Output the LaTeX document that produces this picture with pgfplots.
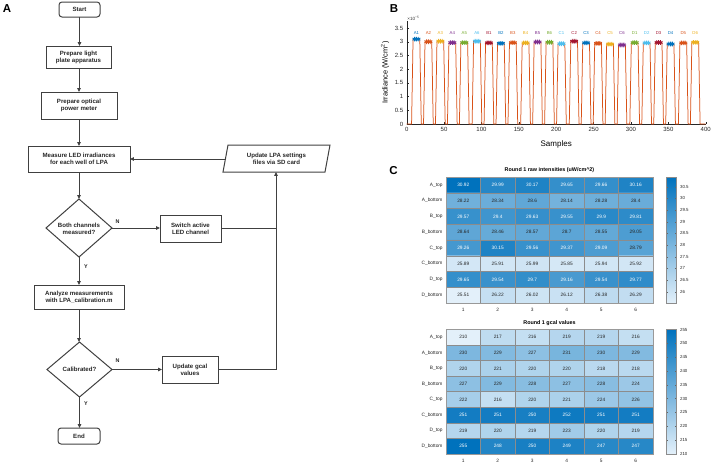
\documentclass[border=0pt]{standalone}
\usepackage{fontspec}
\setmainfont{Liberation Sans}
\usepackage{pgfplots}
\usepackage{pgfplotstable}
\pgfplotsset{compat=1.18}
\usetikzlibrary{arrows.meta}
\pgfplotsset{/pgf/number format/assume math mode=true}
\definecolor{mblue}{rgb}{0,0.447,0.741}
\definecolor{morange}{rgb}{0.850,0.325,0.098}
\definecolor{myellow}{rgb}{0.929,0.694,0.125}
\definecolor{mpurple}{rgb}{0.494,0.184,0.556}
\definecolor{mgreen}{rgb}{0.466,0.674,0.188}
\definecolor{mlblue}{rgb}{0.301,0.745,0.933}
\definecolor{mdred}{rgb}{0.635,0.078,0.184}
\definecolor{tdark}{rgb}{0.15,0.15,0.15}

\pgfplotstableread{
x y v tw
1 0 30.92 1
2 0 29.99 1
3 0 30.17 1
4 0 29.65 1
5 0 29.66 1
6 0 30.16 1
1 1 28.22 0
2 1 28.34 0
3 1 28.6 0
4 1 28.14 0
5 1 28.28 0
6 1 28.4 0
1 2 29.57 1
2 2 29.4 1
3 2 29.63 1
4 2 29.55 1
5 2 29.9 1
6 2 29.81 1
1 3 28.64 0
2 3 28.46 0
3 3 28.57 0
4 3 28.7 0
5 3 28.55 0
6 3 29.05 0
1 4 29.26 1
2 4 30.15 1
3 4 29.56 1
4 4 29.37 1
5 4 29.09 1
6 4 28.79 0
1 5 25.89 0
2 5 25.91 0
3 5 25.99 0
4 5 25.85 0
5 5 25.94 0
6 5 25.92 0
1 6 29.65 1
2 6 29.54 1
3 6 29.7 1
4 6 29.16 1
5 6 29.54 1
6 6 29.77 1
1 7 25.51 0
2 7 26.22 0
3 7 26.02 0
4 7 26.12 0
5 7 26.38 0
6 7 26.29 0
}\rawtab

\pgfplotstableread{
x y v tw
1 0 210 0
2 0 217 0
3 0 216 0
4 0 219 0
5 0 219 0
6 0 216 0
1 1 230 0
2 1 229 0
3 1 227 0
4 1 231 0
5 1 230 0
6 1 229 0
1 2 220 0
2 2 221 0
3 2 220 0
4 2 220 0
5 2 218 0
6 2 218 0
1 3 227 0
2 3 229 0
3 3 228 0
4 3 227 0
5 3 228 0
6 3 224 0
1 4 222 0
2 4 216 0
3 4 220 0
4 4 221 0
5 4 224 0
6 4 226 0
1 5 251 1
2 5 251 1
3 5 250 1
4 5 252 1
5 5 251 1
6 5 251 1
1 6 219 0
2 6 220 0
3 6 219 0
4 6 223 0
5 6 220 0
6 6 219 0
1 7 255 1
2 7 248 1
3 7 250 1
4 7 249 1
5 7 247 1
6 7 247 1
}\gcaltab

\pgfplotstableread{
x y c
10.5 3.092 c0
13 3.092 c0
15.5 3.092 c0
26.5 2.999 c1
29 2.999 c1
31.5 2.999 c1
42.5 3.017 c2
45 3.017 c2
47.5 3.017 c2
58.5 2.965 c3
61 2.965 c3
63.5 2.965 c3
74.5 2.966 c4
77 2.966 c4
79.5 2.966 c4
91.5 3.016 c5
94 3.016 c5
96.5 3.016 c5
107.5 2.957 c6
110 2.957 c6
112.5 2.957 c6
123.5 2.940 c0
126 2.940 c0
128.5 2.940 c0
139.5 2.963 c1
142 2.963 c1
144.5 2.963 c1
156.5 2.955 c2
159 2.955 c2
161.5 2.955 c2
172.5 2.990 c3
175 2.990 c3
177.5 2.990 c3
188.5 2.981 c4
191 2.981 c4
193.5 2.981 c4
204.5 2.926 c5
207 2.926 c5
209.5 2.926 c5
221.5 3.015 c6
224 3.015 c6
226.5 3.015 c6
237.5 2.956 c0
240 2.956 c0
242.5 2.956 c0
253.5 2.937 c1
256 2.937 c1
258.5 2.937 c1
269.5 2.909 c2
272 2.909 c2
274.5 2.909 c2
285.5 2.879 c3
288 2.879 c3
290.5 2.879 c3
302.5 2.965 c4
305 2.965 c4
307.5 2.965 c4
318.5 2.954 c5
321 2.954 c5
323.5 2.954 c5
334.5 2.970 c6
337 2.970 c6
339.5 2.970 c6
350.5 2.916 c0
353 2.916 c0
355.5 2.916 c0
367.5 2.954 c1
370 2.954 c1
372.5 2.954 c1
383.5 2.977 c2
386 2.977 c2
388.5 2.977 c2
}\marktab

\begin{document}
\begin{tikzpicture}[x=1pt,y=1pt,font=\fontsize{5.5}{6.5}\selectfont]
\path[use as bounding box] (0,0) rectangle (714,-463);

% ---------------- Panel A : flowchart ----------------
\tikzset{
  fl/.style={draw=black!75, line width=1pt},
  ar/.style={fl, -{Triangle[length=3.8pt,width=3.4pt]}},
  ft/.style={font=\bfseries\fontsize{6.1}{7}\selectfont, text=black!85, align=center, inner sep=0pt},
  yn/.style={font=\bfseries\fontsize{5.4}{5.4}\selectfont, text=black!85, inner sep=0pt}
}
\node[font=\bfseries\fontsize{11.5}{11.5}\selectfont, inner sep=0pt] at (7,-9) {A};
\node[font=\bfseries\fontsize{11.5}{11.5}\selectfont, inner sep=0pt] at (394,-9) {B};
\node[font=\bfseries\fontsize{11.5}{11.5}\selectfont, inner sep=0pt] at (393.5,-171) {C};

\draw[fl, rounded corners=3pt] (59,-2) rectangle (100,-17);
\node[ft] at (79.5,-9.5) {Start};
\draw[fl] (46,-46) rectangle (111,-68);
\node[ft] at (78.5,-57) {Prepare light\\plate apparatus};
\draw[fl] (41,-92) rectangle (117,-119);
\node[ft] at (79,-105.5) {Prepare optical\\power meter};
\draw[fl] (28,-146) rectangle (130,-172);
\node[ft] at (79,-159) {Measure LED irradiances\\for each well of LPA};
\draw[fl] (223,-172) -- (228,-145) -- (330,-145) -- (325,-172) -- cycle;
\node[ft] at (276.5,-158.5) {Update LPA settings\\files via SD card};
\draw[fl] (79,-199) -- (112,-228) -- (79,-257) -- (46,-228) -- cycle;
\node[ft] at (79,-228.5) {Both channels\\measured?};
\draw[fl] (160,-215) rectangle (221,-242);
\node[ft] at (190.5,-228.5) {Switch active\\LED channel};
\draw[fl] (34,-285) rectangle (124,-309);
\node[ft] at (79,-297) {Analyze measurements\\with LPA\_calibration.m};
\draw[fl] (79.5,-342) -- (112,-369.5) -- (79.5,-397) -- (47,-369.5) -- cycle;
\node[ft] at (79.5,-369.5) {Calibrated?};
\draw[fl] (162,-356) rectangle (218,-383);
\node[ft] at (190,-369.5) {Update gcal\\values};
\draw[fl, rounded corners=3pt] (58,-428) rectangle (100,-444);
\node[ft] at (79,-436) {End};

\draw[ar] (79.5,-17) -- (79.5,-46);
\draw[ar] (79,-68) -- (79,-92);
\draw[ar] (79,-119) -- (79,-146);
\draw[ar] (79,-172) -- (79,-199);
\draw[ar] (112,-228) -- (160,-228);
\draw[fl] (221,-228) -- (276,-228);
\draw[ar] (218,-369.5) -- (276,-369.5) -- (276,-172);
\draw[ar] (225.5,-159) -- (130,-159);
\draw[ar] (79,-257) -- (79,-285);
\draw[ar] (79,-309) -- (79,-342);
\draw[ar] (112,-369.5) -- (162,-369.5);
\draw[ar] (79.5,-397) -- (79.5,-428);
\node[yn] at (117.5,-222) {N};
\node[yn] at (86,-267) {Y};
\node[yn] at (117.5,-361) {N};
\node[yn] at (86,-404) {Y};

% ---------------- Panel B ----------------
\begin{axis}[at={(406.7pt,-124pt)}, anchor=south west, scale only axis,
  width=299pt, height=102.9pt, xmin=0, xmax=400, ymin=0, ymax=3.75,
  axis lines=left, axis line style={-, black!85, line width=0.4pt},
  tick align=inside, major tick length=2pt, tick style={black!85},
  xtick={0,50,...,400}, ytick={0,0.5,...,3.5},
  tick label style={font=\fontsize{6}{6}\selectfont, text=black!85},
  xlabel={Samples}, ylabel={Irradiance (W/cm\textsuperscript{2})},
  xlabel style={font=\fontsize{8}{8}\selectfont, at={(axis description cs:0.5,0)}, anchor=center, yshift=-20pt},
  ylabel style={font=\fontsize{7.4}{7.4}\selectfont, at={(axis description cs:-0.0726,0.5)}, anchor=center},
  clip=false]
\addplot[morange, line width=0.75pt] coordinates {
(0,0)
(6.5,0)(8.5,3.092)(17.5,3.092)(19.5,0)
(22.5,0)(24.5,2.999)(33.5,2.999)(35.5,0)
(38.5,0)(40.5,3.017)(49.5,3.017)(51.5,0)
(54.5,0)(56.5,2.965)(65.5,2.965)(67.5,0)
(70.5,0)(72.5,2.966)(81.5,2.966)(83.5,0)
(87.5,0)(89.5,3.016)(98.5,3.016)(100.5,0)
(103.5,0)(105.5,2.957)(114.5,2.957)(116.5,0)
(119.5,0)(121.5,2.940)(130.5,2.940)(132.5,0)
(135.5,0)(137.5,2.963)(146.5,2.963)(148.5,0)
(152.5,0)(154.5,2.955)(163.5,2.955)(165.5,0)
(168.5,0)(170.5,2.990)(179.5,2.990)(181.5,0)
(184.5,0)(186.5,2.981)(195.5,2.981)(197.5,0)
(200.5,0)(202.5,2.926)(211.5,2.926)(213.5,0)
(217.5,0)(219.5,3.015)(228.5,3.015)(230.5,0)
(233.5,0)(235.5,2.956)(244.5,2.956)(246.5,0)
(249.5,0)(251.5,2.937)(260.5,2.937)(262.5,0)
(265.5,0)(267.5,2.909)(276.5,2.909)(278.5,0)
(281.5,0)(283.5,2.879)(292.5,2.879)(294.5,0)
(298.5,0)(300.5,2.965)(309.5,2.965)(311.5,0)
(314.5,0)(316.5,2.954)(325.5,2.954)(327.5,0)
(330.5,0)(332.5,2.970)(341.5,2.970)(343.5,0)
(346.5,0)(348.5,2.916)(357.5,2.916)(359.5,0)
(363.5,0)(365.5,2.954)(374.5,2.954)(376.5,0)
(379.5,0)(381.5,2.977)(390.5,2.977)(392.5,0)
(400,0)
};
\addplot[scatter, only marks, mark size=2.3pt, line width=0.9pt,
  scatter src=explicit symbolic,
  scatter/classes={
    c0={mark=asterisk,mblue}, c1={mark=asterisk,morange},
    c2={mark=asterisk,myellow}, c3={mark=asterisk,mpurple},
    c4={mark=asterisk,mgreen}, c5={mark=asterisk,mlblue},
    c6={mark=asterisk,mdred}}]
  table[x=x,y=y,meta=c] {\marktab};
\tikzset{wl/.style={font=\fontsize{4.3}{4.3}\selectfont, inner sep=0pt}}
\node[wl,text=mblue] at (axis cs:13,3.31) {A1};
\node[wl,text=morange] at (axis cs:29,3.31) {A2};
\node[wl,text=myellow] at (axis cs:45,3.31) {A3};
\node[wl,text=mpurple] at (axis cs:61,3.31) {A4};
\node[wl,text=mgreen] at (axis cs:77,3.31) {A5};
\node[wl,text=mlblue] at (axis cs:94,3.31) {A6};
\node[wl,text=mdred] at (axis cs:110,3.31) {B1};
\node[wl,text=mblue] at (axis cs:126,3.31) {B2};
\node[wl,text=morange] at (axis cs:142,3.31) {B3};
\node[wl,text=myellow] at (axis cs:159,3.31) {B4};
\node[wl,text=mpurple] at (axis cs:175,3.31) {B5};
\node[wl,text=mgreen] at (axis cs:191,3.31) {B6};
\node[wl,text=mlblue] at (axis cs:207,3.31) {C1};
\node[wl,text=mdred] at (axis cs:224,3.31) {C2};
\node[wl,text=mblue] at (axis cs:240,3.31) {C3};
\node[wl,text=morange] at (axis cs:256,3.31) {C4};
\node[wl,text=myellow] at (axis cs:272,3.31) {C5};
\node[wl,text=mpurple] at (axis cs:288,3.31) {C6};
\node[wl,text=mgreen] at (axis cs:305,3.31) {D1};
\node[wl,text=mlblue] at (axis cs:321,3.31) {D2};
\node[wl,text=mdred] at (axis cs:337,3.31) {D3};
\node[wl,text=mblue] at (axis cs:353,3.31) {D4};
\node[wl,text=morange] at (axis cs:370,3.31) {D5};
\node[wl,text=myellow] at (axis cs:386,3.31) {D6};
\node[anchor=south west, font=\fontsize{4.6}{4.6}\selectfont, text=black!80, inner sep=0.5pt] at (rel axis cs:0,1) {×10\textsuperscript{−5}};
\end{axis}

% ---------------- Panel C ----------------
\pgfplotsset{
  hm/.style={anchor=south west, scale only axis, width=207pt,
    xmin=0.5, xmax=6.5, ymin=-0.5, ymax=7.5, y dir=reverse, enlargelimits=false,
    xtick={1,...,6}, ytick={0,...,7},
    yticklabels={A\_top,A\_bottom,B\_top,B\_bottom,C\_top,C\_bottom,D\_top,D\_bottom},
    major tick length=0pt, minor tick length=0pt,
    tick label style={font=\fontsize{4.8}{5}\selectfont, text=black!85},
    xticklabel style={yshift=-1.5pt},
    minor xtick={1.5,2.5,3.5,4.5,5.5}, minor ytick={0.5,1.5,2.5,3.5,4.5,5.5,6.5},
    xminorgrids=true, yminorgrids=true,
    minor grid style={black!45, line width=0.35pt},
    axis line style={black!40, line width=0.5pt},
    axis on top,
    colormap={hmblue}{rgb=(0.89,0.94,0.98) rgb=(0,0.447,0.741)},
    every axis title/.style={at={(0.5,1)}, anchor=south, yshift=0.8pt, font=\bfseries\fontsize{5.4}{6}\selectfont},
    colorbar,
  },
  hmcells/.style={only marks, mark=*, mark size=0pt, draw=none, fill=none,
    point meta=explicit, nodes near coords,
    every node near coord/.append style={font=\fontsize{4.8}{5}\selectfont, text=#1, anchor=center, inner sep=0pt}}
}
\begin{axis}[hm, at={(446pt,-303pt)}, height=126pt,
  title={Round 1 raw intensities (uW/cm\textasciicircum 2)},
  point meta min=25.51, point meta max=30.92,
  colorbar style={at={(parent axis.north east)}, anchor=north west, xshift=5pt,
    scale only axis, width=10pt, height=126pt,
    ytick={26,26.5,27,27.5,28,28.5,29,29.5,30,30.5},
    yticklabel style={font=\fontsize{4.4}{5}\selectfont, text=black!85},
    major tick length=1.5pt, axis line style={black!45}, tick style={black!60}}]
\addplot[matrix plot*, mesh/cols=6, point meta=explicit] table[x=x,y=y,meta=v] {\rawtab};
\addplot[hmcells=white, restrict expr to domain={\thisrow{tw}}{0.5:1.5}] table[x=x,y=y,meta=v] {\rawtab};
\addplot[hmcells=tdark, restrict expr to domain={\thisrow{tw}}{-0.5:0.5}] table[x=x,y=y,meta=v] {\rawtab};
\end{axis}

\begin{axis}[hm, at={(446pt,-453.8pt)}, height=124.3pt,
  title={Round 1 gcal values},
  point meta min=210, point meta max=255,
  colorbar style={at={(parent axis.north east)}, anchor=north west, xshift=5pt,
    scale only axis, width=10pt, height=124.3pt,
    ytick={210,215,220,225,230,235,240,245,250,255},
    yticklabel style={font=\fontsize{4.4}{5}\selectfont, text=black!85},
    major tick length=1.5pt, axis line style={black!45}, tick style={black!60}}]
\addplot[matrix plot*, mesh/cols=6, point meta=explicit] table[x=x,y=y,meta=v] {\gcaltab};
\addplot[hmcells=white, restrict expr to domain={\thisrow{tw}}{0.5:1.5}] table[x=x,y=y,meta=v] {\gcaltab};
\addplot[hmcells=tdark, restrict expr to domain={\thisrow{tw}}{-0.5:0.5}] table[x=x,y=y,meta=v] {\gcaltab};
\end{axis}
\end{tikzpicture}
\end{document}
